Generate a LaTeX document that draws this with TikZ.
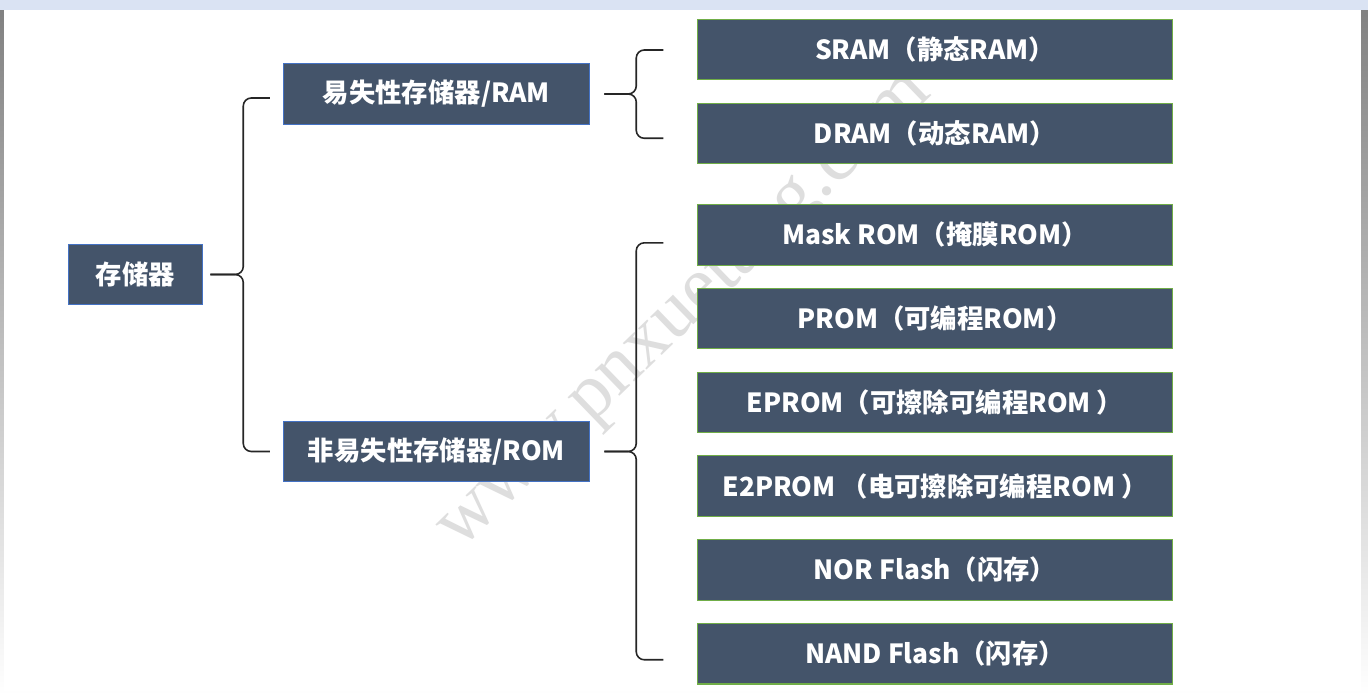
\documentclass[tikz,border=0pt]{standalone}
\usepackage{fontspec}
\newfontfamily\cjk{Noto Sans CJK SC}
\newfontfamily\markfont{Liberation Serif}
\usetikzlibrary{positioning,calc}
\definecolor{boxfill}{HTML}{44546A}
\definecolor{headedge}{HTML}{4472C4}
\definecolor{leafedge}{HTML}{70AD47}
\definecolor{topband}{HTML}{DAE3F3}
\definecolor{shade}{HTML}{D9D9D9}

\begin{document}
\begin{tikzpicture}[x=0.02cm,y=-0.02cm,node distance=0.445cm,
	box/.style={rectangle,fill=boxfill,text=white,font=\cjk\bfseries\fontsize{15}{18}\selectfont,line width=0.6pt,inner sep=0pt,minimum height=1.21cm},
	head/.style={box,draw=headedge},
	leaf/.style={box,draw=leafedge,minimum width=9.49cm},
	brace/.style={draw=black!85,line width=0.9pt,rounded corners=0.16cm}]
\useasboundingbox (0,0) rectangle (1368,695);
\fill[shade] (0,0) rectangle (1368,695);
\fill[white] (4,10) rectangle (1361,691);
\fill[topband] (0,0) rectangle (1368,10);
\node[rotate=44,text=black!13,font=\markfont\fontsize{44}{44}\selectfont] (mark) at (687,313) {www.pnxuetang.com};
\node[head,minimum width=2.69cm] (root) at (135.5,274.5) {存储器};
\node[head,minimum width=6.13cm] (ram) at (436.5,94) {易失性存储器/RAM};
\node[head,minimum width=6.13cm] (rom) at (436.5,451.5) {非易失性存储器/ROM};
\node[leaf] (sram) at (935,49.5) {SRAM（静态RAM）};
\node[leaf,below=of sram] (dram) {DRAM（动态RAM）};
\node[leaf,below=0.8cm of dram] (mask) {Mask ROM（掩膜ROM）};
\node[leaf,below=of mask] (prom) {PROM（可编程ROM）};
\node[leaf,below=of prom] (eprom) {EPROM（可擦除可编程ROM ）};
\node[leaf,below=of eprom] (eeprom) {E2PROM （电可擦除可编程ROM ）};
\node[leaf,below=of eeprom] (nor) {NOR Flash（闪存）};
\node[leaf,below=of nor] (nand) {NAND Flash（闪存）};
\coordinate (tip0) at ($(root.east)+(7,0)$);
\coordinate (tip1) at ($(ram.east)+(14,0)$);
\coordinate (tip2) at ($(rom.east)+(14,0)$);
\path[brace] ($(ram.west)+(-13,4)$) -| ($(tip0)+(33,0)$) -- (tip0);
\path[brace] (tip0) -- ($(tip0)+(33,0)$) |- ($(rom.west)+(-13,0)$);
\path[brace] ($(sram.west)+(-34,0.5)$) -| ($(tip1)+(32,0)$) -- (tip1);
\path[brace] (tip1) -- ($(tip1)+(32,0)$) |- ($(dram.west)+(-34,5)$);
\path[brace] ($(mask.west)+(-34,8)$) -| ($(tip2)+(32,0)$) -- (tip2);
\path[brace] (tip2) -- ($(tip2)+(32,0)$) |- ($(nand.west)+(-34,6)$);
\end{tikzpicture}
\end{document}
